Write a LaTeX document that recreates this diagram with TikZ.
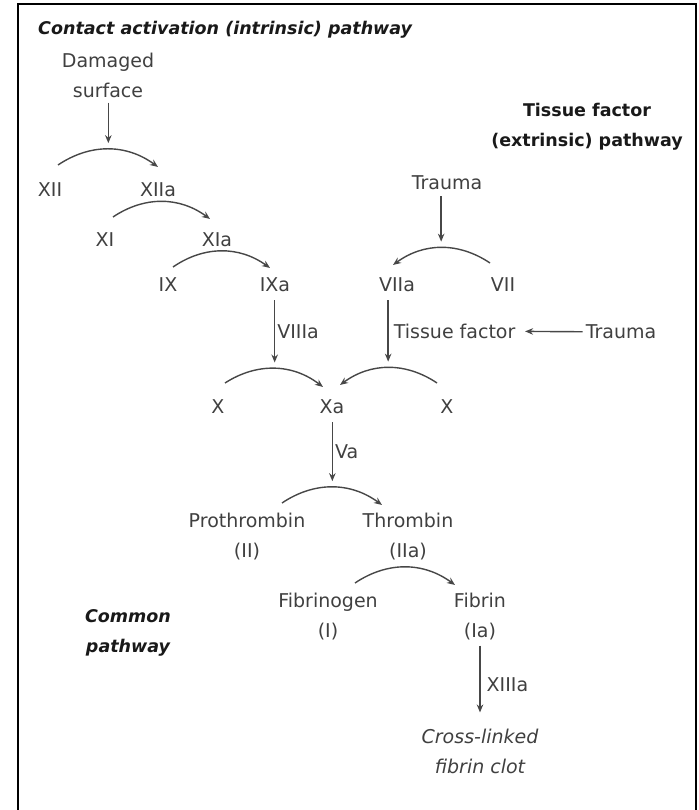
\documentclass[tikz,border=0pt]{standalone}
\usepackage{fontspec}
\setmainfont{DejaVu Sans}
\usetikzlibrary{arrows.meta}

\begin{document}
\begin{tikzpicture}[
    x=1pt, y=1pt,
    every node/.style={font=\fontsize{19}{30}\selectfont, text=black!75, align=center, inner sep=2pt},
    heading/.style={text=black!90, font=\fontsize{17.5}{30}\selectfont\bfseries\itshape},
    headup/.style={text=black!90, font=\fontsize{17.5}{30}\selectfont\bfseries},
    product/.style={font=\fontsize{19}{30}\selectfont\itshape},
    conv/.style={draw=black!72, line width=1.4pt, -{Stealth[length=8pt,width=6.5pt]}},
    feed/.style={conv, shorten >=6pt, shorten <=6pt},
    frame/.style={draw=black, line width=2pt}
  ]

  \useasboundingbox (0,0) rectangle (698,810);
  \draw[frame] (18,-5) |- (696,806) -- (696,-5);

  % Pathway titles
  \node[heading, anchor=west] (intr) at (36,780) {Contact activation (intrinsic) pathway};
  \node[headup] (extr) at (587,683) {Tissue factor\\(extrinsic) pathway};
  \node[heading] (common) at (128,177) {Common\\pathway};

  % Intrinsic side
  \node (damaged) at (108,735) {Damaged\\surface};
  \node (xii) at (50,620) {XII};
  \node (xiia) at (158,620) {XIIa};
  \node (xi) at (105,570) {XI};
  \node (xia) at (217,570) {XIa};
  \node (ix) at (168,525) {IX};
  \node (ixa) at (275,525) {IXa};

  % Extrinsic side
  \node (trauma) at (447,627) {Trauma};
  \node (viia) at (397,525) {VIIa};
  \node (vii) at (503,525) {VII};
  \node (trauma2) at (621,478) {Trauma};

  % Common side
  \node (xl) at (218,403) {X};
  \node (xa) at (332,403) {Xa};
  \node (xr) at (447,403) {X};
  \node (pro) at (247,273) {Prothrombin\\(II)};
  \node (thr) at (408,273) {Thrombin\\(IIa)};
  \node (fbg) at (328,193) {Fibrinogen\\(I)};
  \node (fbn) at (480,193) {Fibrin\\(Ia)};
  \node[product] (clot) at (480,59) {Cross-linked\\fibrin clot};

  % Conversions
  \draw[conv] ([shift={(8,25)}]xii.center) to[bend left=35] coordinate[pos=.5] (m1) ([shift={(0,23)}]xiia.center);
  \draw[conv] ([shift={(8,23)}]xi.center) to[bend left=35] ([shift={(-7,21)}]xia.center);
  \draw[conv] ([shift={(5,18)}]ix.center) to[bend left=35] ([shift={(-5,17)}]ixa.center);
  \draw[conv] ([shift={(-13,22)}]vii.center) to[bend right=35] coordinate[pos=.5] (m4) ([shift={(-4,20)}]viia.center);
  \draw[conv] ([shift={(7,24)}]xl.center) to[bend left=35] coordinate[pos=.5] (m5) ([shift={(-9,20)}]xa.center);
  \draw[conv] ([shift={(-10,24)}]xr.center) to[bend right=35] coordinate[pos=.5] (m6) ([shift={(8,22)}]xa.center);
  \draw[conv] ([shift={(35,34)}]pro.center) to[bend left=35] coordinate[pos=.5] (m7) ([shift={(-26,32)}]thr.center);
  \draw[conv] ([shift={(27,34)}]fbg.center) to[bend left=35] ([shift={(-25,32)}]fbn.center);

  % Activators
  \draw[feed, shorten <=3pt] (damaged.south -| m1) -- (m1);
  \draw[feed, shorten <=4pt] (trauma.south -| m4) -- (m4);
  \draw[feed] (ixa.south -| m5) -- node[right] {VIIIa} (m5);
  \draw[feed] (viia.south -| m6) -- node[right, inner sep=5pt] (tf) {Tissue factor} (m6);
  \draw[feed] (xa.south -| m7) -- node[right] {Va} (m7);
  \draw[feed, shorten <=3pt, shorten >=14pt] (fbn.south) -- node[right, inner sep=6pt] {XIIIa} (clot.north);
  \draw[feed, shorten <=1pt, shorten >=4pt] (trauma2) -- (tf);

\end{tikzpicture}
\end{document}
